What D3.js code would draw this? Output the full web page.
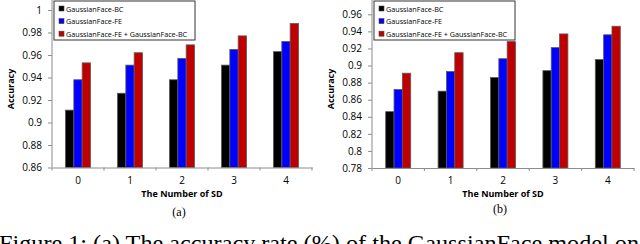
<!DOCTYPE html>
<meta charset="utf-8">
<html>
<head>
  <style>
    body { margin: 0; background: #fff; }
    svg { display: block; }
  </style>
</head>
<body>
  <script src="https://d3js.org/d3.v7.js"></script>
  <div id="my_dataviz"></div>
  <script>
    // categories (number of SD) and series names
    var categories = ["0", "1", "2", "3", "4"];
    var seriesNames = ["GaussianFace-BC", "GaussianFace-FE", "GaussianFace-FE + GaussianFace-BC"];
    var seriesColors = ["#000000", "#0000ff", "#c00000"];

    // panel (a)
    var aBC = [0.911, 0.926, 0.938, 0.951, 0.963];
    var aFE = [0.938, 0.951, 0.957, 0.965, 0.972];
    var aBoth = [0.953, 0.962, 0.969, 0.977, 0.988];
    var aTicks = [0.86, 0.88, 0.9, 0.92, 0.94, 0.96, 0.98, 1];

    // panel (b)
    var bBC = [0.846, 0.870, 0.886, 0.894, 0.907];
    var bFE = [0.872, 0.893, 0.908, 0.921, 0.936];
    var bBoth = [0.891, 0.915, 0.928, 0.937, 0.946];
    var bTicks = [0.78, 0.8, 0.82, 0.84, 0.86, 0.88, 0.9, 0.92, 0.94, 0.96];

    var W = 640, H = 244;
    var svg = d3.select("#my_dataviz")
      .append("svg")
      .attr("width", W)
      .attr("height", H);

    var axisColor = "#8c8c8c";
    var sans = "'Open Sans', 'Liberation Sans', sans-serif";

    function drawPanel(opts) {
      var g = svg.append("g");
      var x0 = d3.scaleBand().domain(categories).range([opts.left, opts.right]).paddingInner(0).paddingOuter(0);
      var x1 = d3.scaleBand().domain(d3.range(seriesNames.length)).range([0, 25]);
      var y = d3.scaleLinear().domain(opts.domain).range([opts.bottom, opts.top]);

      var series = [opts.bc, opts.fe, opts.both];

      // bars
      categories.forEach(function (c, ci) {
        series.forEach(function (s, si) {
          g.append("rect")
            .attr("x", x0(c) + (x0.bandwidth() - 25) / 2 + x1(si))
            .attr("y", y(s[ci]))
            .attr("width", x1.bandwidth())
            .attr("height", opts.bottom - y(s[ci]))
            .attr("fill", seriesColors[si])
            .attr("stroke", "#5a5a5a")
            .attr("stroke-width", 0.8);
        });
      });

      // y axis
      var yAxis = g.append("g")
        .attr("transform", "translate(" + opts.left + ",0)")
        .call(d3.axisLeft(y).tickValues(opts.ticks).tickSize(4).tickPadding(6)
          .tickFormat(function (d) { return String(+d.toFixed(2)); }));
      yAxis.select(".domain").remove();
      g.append("line")
        .attr("x1", opts.left).attr("x2", opts.left)
        .attr("y1", opts.axisTop).attr("y2", opts.bottom)
        .attr("stroke", axisColor);
      yAxis.selectAll("line").attr("stroke", axisColor);
      yAxis.selectAll("text").attr("font-family", sans).attr("font-size", 10).attr("fill", "#000");

      // x axis
      var xAxis = g.append("g")
        .attr("transform", "translate(0," + opts.bottom + ")")
        .call(d3.axisBottom(x0).tickSize(0).tickPadding(9));
      xAxis.select(".domain").attr("stroke", axisColor);
      xAxis.selectAll("text").attr("font-family", sans).attr("font-size", 10).attr("fill", "#000");
      // tick marks at band boundaries
      g.selectAll(null)
        .data(categories.concat(["end"]))
        .enter()
        .append("line")
        .attr("x1", function (d, i) { return i < categories.length ? x0(d) : opts.right; })
        .attr("x2", function (d, i) { return i < categories.length ? x0(d) : opts.right; })
        .attr("y1", opts.bottom).attr("y2", opts.bottom + 3)
        .attr("stroke", axisColor);

      // axis titles
      g.append("text")
        .attr("transform", "translate(" + opts.ytitleX + "," + opts.ytitleY + ") rotate(-90)")
        .attr("text-anchor", "middle")
        .attr("font-family", sans).attr("font-size", 9).attr("font-weight", "bold")
        .text("Accuracy");
      g.append("text")
        .attr("x", (opts.left + opts.right) / 2 - 0)
        .attr("y", opts.bottom + 29)
        .attr("text-anchor", "middle")
        .attr("font-family", sans).attr("font-size", 9).attr("font-weight", "bold")
        .text("The Number of SD");

      // sub caption
      g.append("text")
        .attr("x", opts.capX)
        .attr("y", opts.capY)
        .attr("text-anchor", "middle")
        .attr("font-family", "'Liberation Serif', serif").attr("font-size", 12)
        .text(opts.caption);

      // legend
      var lg = g.append("g").attr("transform", "translate(" + opts.legX + ",1)");
      lg.append("rect")
        .attr("width", 141).attr("height", 39)
        .attr("fill", "#fff").attr("stroke", "#333").attr("stroke-width", 1);
      seriesNames.forEach(function (name, i) {
        lg.append("rect")
          .attr("x", 5).attr("y", 5 + i * 12.6)
          .attr("width", 5).attr("height", 5)
          .attr("fill", seriesColors[i]).attr("stroke", "#444").attr("stroke-width", 0.6);
        lg.append("text")
          .attr("x", 12).attr("y", 10.5 + i * 12.6)
          .attr("font-family", sans).attr("font-size", 7.2)
          .attr("fill", "#000")
          .text(name);
      });
    }

    drawPanel({
      left: 52, right: 312, top: 10, bottom: 167.5, axisTop: 0,
      domain: [0.86, 1], ticks: aTicks,
      bc: aBC, fe: aFE, both: aBoth,
      ytitleX: 14, ytitleY: 89, capX: 179, capY: 216, caption: "(a)", legX: 54
    });

    drawPanel({
      left: 372, right: 634, top: 14.3, bottom: 168, axisTop: 0,
      domain: [0.78, 0.96], ticks: bTicks,
      bc: bBC, fe: bFE, both: bBoth,
      ytitleX: 334, ytitleY: 89, capX: 500, capY: 213, caption: "(b)", legX: 374
    });

    // figure caption (cut off at the bottom of the picture)
    svg.append("text")
      .attr("x", -1)
      .attr("y", 251)
      .attr("font-family", "'Liberation Serif', serif")
      .attr("font-size", 24)
      .attr("textLength", 640)
      .attr("lengthAdjust", "spacingAndGlyphs")
      .text("Figure 1: (a) The accuracy rate (%) of the GaussianFace model on");
  </script>
</body>
</html>
